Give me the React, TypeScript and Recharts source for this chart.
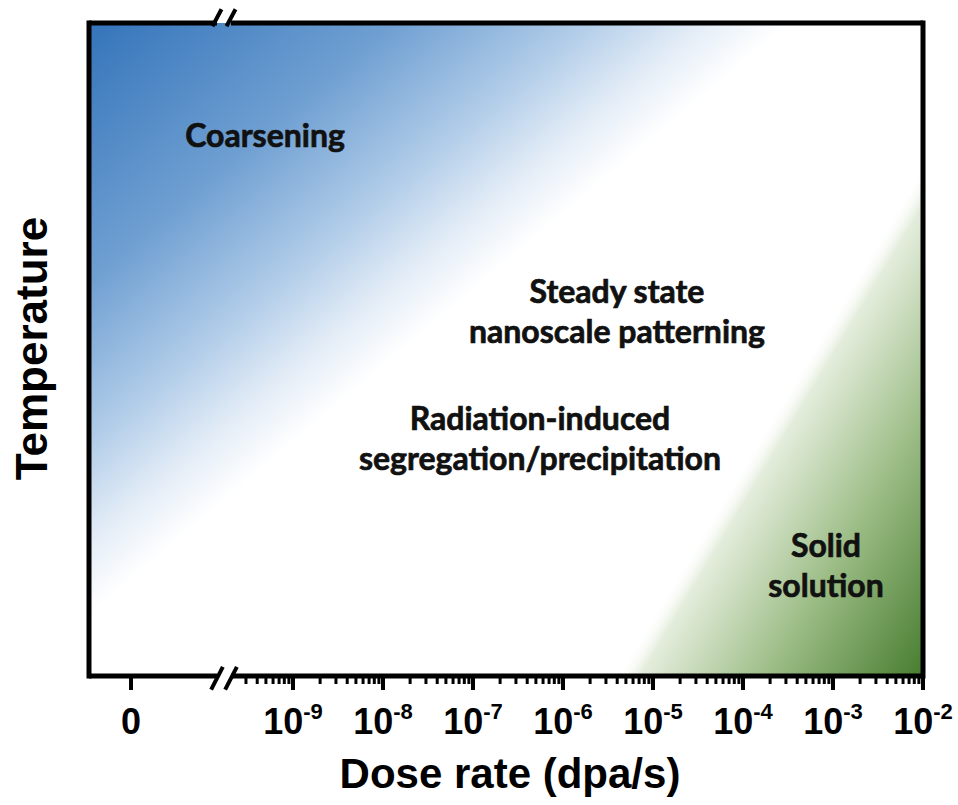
import React from 'react';
import { ComposedChart, XAxis, YAxis, Scatter, ReferenceArea, ReferenceLine, Label } from 'recharts';

// ---- data ----
const xDomain: [number, number] = [-11.267, -2]; // log10(dose rate) scale, with a broken segment holding 0
const yDomain: [number, number] = [0, 1]; // qualitative temperature
const majorExponents = [-9, -8, -7, -6, -5, -4, -3, -2];
const zeroTickPosition = -10.8; // where "0" sits on the broken axis
const axisBreakPosition = -9.767;
const minorDecades = [-10, -9, -8, -7, -6, -5, -4, -3];
const minorMultipliers = [2, 3, 4, 5, 6, 7, 8, 9];
const regionLabels = [
  { x: -9.311, y: 0.81, lines: ['Coarsening'] },
  { x: -5.4, y: 0.571, lines: ['Steady state', 'nanoscale patterning'] },
  { x: -6.256, y: 0.377, lines: ['Radiation-induced', 'segregation/precipitation'] },
  { x: -3.078, y: 0.182, lines: ['Solid', 'solution'] },
];
const xAxisTitle = 'Dose rate (dpa/s)';
const yAxisTitle = 'Temperature';
const zeroLabel = '0';
const baseLabel = '10';

const minorTicks = minorDecades
  .flatMap((d) => minorMultipliers.map((k) => d + Math.log10(k)))
  .filter((v) => v > axisBreakPosition + 0.1);
const allTicks = [zeroTickPosition, ...minorTicks, ...majorExponents];

const AXIS_FONT = '"Liberation Sans", Arial, sans-serif';
const NOTE_FONT = 'Lato, "Open Sans", sans-serif';

const DoseTick = (props: any) => {
  const { x, y, payload } = props;
  const v = payload.value as number;
  const isZero = Math.abs(v - zeroTickPosition) < 1e-9;
  const isMajor = isZero || majorExponents.some((e) => Math.abs(e - v) < 1e-9);
  return (
    <g>
      <line x1={x} x2={x} y1={y} y2={y + (isMajor ? 14 : 8)} stroke="#000" strokeWidth={isMajor ? 4 : 3} />
      {isZero && (
        <text x={x} y={y + 58} textAnchor="middle" fontFamily={AXIS_FONT} fontWeight="bold" fontSize={36} fill="#000">
          {zeroLabel}
        </text>
      )}
      {isMajor && !isZero && (
        <text x={x} y={y + 58} textAnchor="middle" fontFamily={AXIS_FONT} fontWeight="bold" fontSize={36} fill="#000">
          <tspan>{baseLabel}</tspan>
          <tspan dy={-15} fontSize={22}>{String(Math.round(v))}</tspan>
        </text>
      )}
    </g>
  );
};

const XTitle = (props: any) => {
  const { x, y, width } = props.viewBox;
  return (
    <text x={x + width / 2 + 4} y={y + 112} textAnchor="middle" fontFamily={AXIS_FONT} fontWeight="bold" fontSize={42} fill="#000">
      {xAxisTitle}
    </text>
  );
};

const YTitle = (props: any) => {
  const { x, y, height } = props.viewBox;
  const cx = x + 47;
  const cy = y + height / 2 - 1;
  return (
    <text x={cx} y={cy} transform={`rotate(-90, ${cx}, ${cy})`} textAnchor="middle" fontFamily={AXIS_FONT} fontWeight="bold" fontSize={44} fill="#000">
      {yAxisTitle}
    </text>
  );
};

const RegionText = (props: any) => {
  const { cx, cy, payload } = props;
  return (
    <text x={cx} y={cy} textAnchor="middle" fontFamily={NOTE_FONT} fontWeight="bold" fontSize={32} fill="#111" stroke="#111" strokeWidth={0.7}>
      {payload.lines.map((l: string, i: number) => (
        <tspan key={i} x={cx} dy={i === 0 ? 0 : 40}>
          {l}
        </tspan>
      ))}
    </text>
  );
};

const border = { stroke: '#000', strokeWidth: 5, strokeLinecap: 'square' as const };
const slash = { stroke: '#000', strokeWidth: 4 };
const slashOffset = 0.078;

export default function App() {
  const [x0, x1] = xDomain;
  const b = axisBreakPosition;
  return (
    <div style={{ position: 'absolute', left: 0, top: 0, background: '#fff' }}>
      <ComposedChart width={958} height={805} margin={{ top: 23, right: 35, bottom: 19, left: 0 }} data={regionLabels}>
        <defs>
          <linearGradient id="blueGrad" x1="0" y1="0" x2="0.452" y2="0.419">
            <stop offset="0" stopColor="rgb(52,116,186)" />
            <stop offset="0.44" stopColor="rgb(112,160,210)" />
            <stop offset="0.7" stopColor="rgb(175,203,232)" />
            <stop offset="0.88" stopColor="rgb(228,237,247)" />
            <stop offset="1" stopColor="#ffffff" />
          </linearGradient>
          <linearGradient id="greenGrad" x1="0.698" y1="0.858" x2="1" y2="1">
            <stop offset="0" stopColor="rgb(255,255,255)" stopOpacity={0} />
            <stop offset="0.08" stopColor="rgb(228,237,220)" stopOpacity={1} />
            <stop offset="0.5" stopColor="rgb(155,188,133)" />
            <stop offset="1" stopColor="rgb(72,125,48)" />
          </linearGradient>
        </defs>
        <XAxis
          type="number"
          dataKey="x"
          domain={xDomain}
          allowDataOverflow
          ticks={allTicks}
          interval={0}
          tick={<DoseTick />}
          tickLine={false}
          axisLine={false}
          tickSize={0}
          tickMargin={0}
          height={110}
        >
          <Label content={<XTitle />} />
        </XAxis>
        <YAxis type="number" dataKey="y" domain={yDomain} allowDataOverflow tick={false} tickLine={false} axisLine={false} width={89}>
          <Label content={<YTitle />} />
        </YAxis>
        <ReferenceArea x1={x0} x2={x1} y1={0} y2={1} fill="url(#blueGrad)" fillOpacity={1} stroke="none" />
        <ReferenceArea x1={x0} x2={x1} y1={0} y2={1} fill="url(#greenGrad)" fillOpacity={1} stroke="none" />
        <Scatter data={regionLabels} isAnimationActive={false} shape={<RegionText />} />
        <ReferenceLine x={x0} {...border} />
        <ReferenceLine x={x1} {...border} />
        <ReferenceLine segment={[{ x: x0, y: 1 }, { x: b - slashOffset, y: 1 }]} {...border} strokeLinecap="butt" />
        <ReferenceLine segment={[{ x: b + slashOffset, y: 1 }, { x: x1, y: 1 }]} {...border} strokeLinecap="butt" />
        <ReferenceLine segment={[{ x: x0, y: 0 }, { x: b - slashOffset, y: 0 }]} {...border} strokeLinecap="butt" />
        <ReferenceLine segment={[{ x: b + slashOffset, y: 0 }, { x: x1, y: 0 }]} {...border} strokeLinecap="butt" />
        <ReferenceLine ifOverflow="visible" segment={[{ x: b - slashOffset - 0.05, y: 0.995 }, { x: b - slashOffset + 0.05, y: 1.021 }]} {...slash} />
        <ReferenceLine ifOverflow="visible" segment={[{ x: b + slashOffset - 0.05, y: 0.995 }, { x: b + slashOffset + 0.05, y: 1.021 }]} {...slash} />
        <ReferenceLine ifOverflow="visible" segment={[{ x: b - slashOffset - 0.065, y: -0.021 }, { x: b - slashOffset + 0.065, y: 0.014 }]} {...slash} />
        <ReferenceLine ifOverflow="visible" segment={[{ x: b + slashOffset - 0.065, y: -0.021 }, { x: b + slashOffset + 0.065, y: 0.014 }]} {...slash} />
      </ComposedChart>
    </div>
  );
}
